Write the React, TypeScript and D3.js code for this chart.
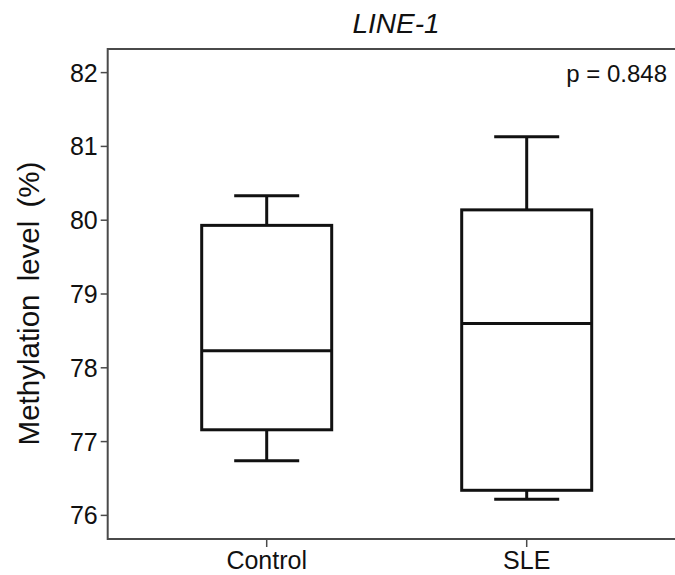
import { useEffect, useRef } from 'react'
import * as d3 from 'd3'

// box-plot summaries
const groups = ['Control', 'SLE']
const whiskerLow = [76.74, 76.22]
const q1 = [77.16, 76.34]
const median = [78.23, 78.6]
const q3 = [79.93, 80.14]
const whiskerHigh = [80.33, 81.13]
const yTicks = [76, 77, 78, 79, 80, 81, 82]
const pLabel = 'p = 0.848'

const W = 675
const H = 575
const M = { top: 49, left: 107.7, bottom: 539, right: 690 }

export default function App() {
  const ref = useRef<SVGSVGElement>(null)

  useEffect(() => {
    const svg = d3.select(ref.current!)
    svg.selectAll('*').remove()
    const font = 'Arial, "Liberation Sans", Helvetica, sans-serif'

    const y = d3.scaleLinear().domain([75.68, 82.32]).range([M.bottom, M.top])
    const x = d3.scaleBand<string>().domain(groups).range([136.7, 656.7]).padding(0)
    const bw = x.bandwidth()

    // frame (right side runs off the picture)
    svg.append('path')
      .attr('d', `M${M.right},${M.top}H${M.left}V${M.bottom}H${M.right}`)
      .attr('fill', 'none').attr('stroke', '#4a4a4a').attr('stroke-width', 2)

    // y axis ticks + labels
    const yAxis = svg.append('g').attr('transform', `translate(${M.left},0)`)
    yAxis.selectAll('line').data(yTicks).join('line')
      .attr('x1', -7).attr('x2', 0).attr('y1', (d) => y(d)).attr('y2', (d) => y(d))
      .attr('stroke', '#4a4a4a').attr('stroke-width', 1.5)
    yAxis.selectAll('text').data(yTicks).join('text')
      .attr('x', -10).attr('y', (d) => y(d)).attr('dy', '0.36em')
      .attr('text-anchor', 'end').attr('font-family', font).attr('font-size', 25)
      .attr('fill', '#111').text((d) => d)

    // x axis ticks + labels
    const xAxis = svg.append('g')
    xAxis.selectAll('line').data(groups).join('line')
      .attr('x1', (d) => x(d)! + bw / 2).attr('x2', (d) => x(d)! + bw / 2)
      .attr('y1', M.bottom).attr('y2', M.bottom + 8)
      .attr('stroke', '#4a4a4a').attr('stroke-width', 1.5)
    xAxis.selectAll('text').data(groups).join('text')
      .attr('x', (d) => x(d)! + bw / 2).attr('y', 569)
      .attr('text-anchor', 'middle').attr('font-family', font).attr('font-size', 25)
      .attr('fill', '#111').text((d) => d)

    // y label (wide word gaps as in the original)
    svg.append('text')
      .attr('transform', `translate(39,${(162 + 445) / 2}) rotate(-90)`)
      .attr('text-anchor', 'middle').attr('font-family', font).attr('font-size', 29.5)
      .attr('word-spacing', 5)
      .attr('fill', '#111').text('Methylation level (%)')

    // title
    svg.append('text')
      .attr('x', 396).attr('y', 33).attr('text-anchor', 'middle')
      .attr('font-family', font).attr('font-size', 28).attr('font-style', 'italic')
      .attr('fill', '#111').text('LINE-1')

    // p-value
    svg.append('text')
      .attr('x', 667).attr('y', 82).attr('text-anchor', 'end')
      .attr('font-family', font).attr('font-size', 24)
      .attr('fill', '#111').text(pLabel)

    // boxes
    const boxW = bw * 0.5
    const capW = bw * 0.25
    groups.forEach((g, i) => {
      const cx = x(g)! + bw / 2
      const b = svg.append('g').attr('stroke', '#111').attr('stroke-width', 3).attr('fill', 'none')
      b.append('line').attr('x1', cx).attr('x2', cx).attr('y1', y(whiskerHigh[i])).attr('y2', y(q3[i]))
      b.append('line').attr('x1', cx).attr('x2', cx).attr('y1', y(q1[i])).attr('y2', y(whiskerLow[i]))
      b.append('line').attr('x1', cx - capW / 2).attr('x2', cx + capW / 2)
        .attr('y1', y(whiskerHigh[i])).attr('y2', y(whiskerHigh[i]))
      b.append('line').attr('x1', cx - capW / 2).attr('x2', cx + capW / 2)
        .attr('y1', y(whiskerLow[i])).attr('y2', y(whiskerLow[i]))
      b.append('rect').attr('x', cx - boxW / 2).attr('width', boxW)
        .attr('y', y(q3[i])).attr('height', y(q1[i]) - y(q3[i])).attr('fill', '#fff')
      b.append('line').attr('x1', cx - boxW / 2).attr('x2', cx + boxW / 2)
        .attr('y1', y(median[i])).attr('y2', y(median[i]))
    })
  }, [])

  return (
    <div style={{ position: 'fixed', left: 0, top: 0, width: W, height: H, background: '#fff' }}>
      <svg ref={ref} width={W} height={H} style={{ display: 'block', overflow: 'hidden' }} />
    </div>
  )
}
